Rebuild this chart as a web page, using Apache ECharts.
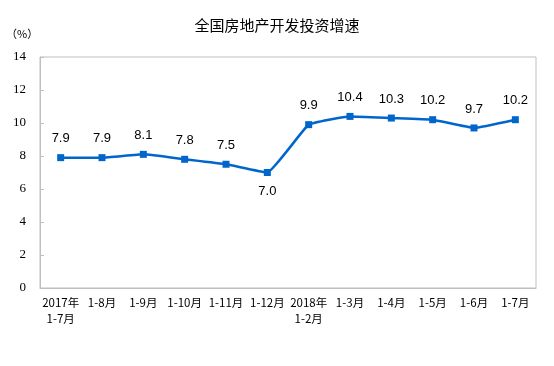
<!DOCTYPE html>
<html><head><meta charset="utf-8">
<script src="https://cdn.jsdelivr.net/npm/echarts@6/dist/echarts.min.js"></script>
<style>html,body{margin:0;padding:0;background:#fff}#c{width:554px;height:366px}</style>
</head><body><div id="c"></div>
<script>
var categories = ['2017年\n1-7月','1-8月','1-9月','1-10月','1-11月','1-12月','2018年\n1-2月','1-3月','1-4月','1-5月','1-6月','1-7月'];
var values = [7.9,7.9,8.1,7.8,7.5,7.0,9.9,10.4,10.3,10.2,9.7,10.2];
var yTicks = [0,2,4,6,8,10,12,14];
var labelBelow = [5];

var chart = echarts.init(document.getElementById('c'));
chart.setOption({
  animation:false,
  backgroundColor:'#fff',
  title:{text:'全国房地产开发投资增速',left:'center',top:13,textStyle:{fontFamily:'Noto Sans CJK SC',fontSize:15,fontWeight:'normal',color:'#000'}},
  graphic:[{type:'text',left:6,top:28,style:{text:'（%）',font:'11px "Noto Sans CJK SC"',fill:'#000'}}],
  grid:{left:40,right:18,top:57,bottom:78,show:true,borderColor:'#bfbfbf',borderWidth:1},
  xAxis:{type:'category',data:categories,boundaryGap:true,
    axisLine:{lineStyle:{color:'#bfbfbf'}},
    axisTick:{inside:true,length:5,lineStyle:{color:'#bfbfbf'}},
    axisLabel:{interval:0,color:'#000',fontFamily:'Noto Sans CJK SC',fontSize:11.5,margin:7,lineHeight:16}},
  yAxis:{type:'value',min:yTicks[0],max:yTicks[yTicks.length-1],interval:2,
    axisLine:{show:true,lineStyle:{color:'#bfbfbf'}},
    axisTick:{show:true,inside:true,length:4,lineStyle:{color:'#bfbfbf'}},
    splitLine:{show:false},
    axisLabel:{color:'#000',fontFamily:'Liberation Serif',fontSize:13,margin:14}},
  series:[{type:'line',data:values.map(function(v,i){
      return {value:v,label:{position: labelBelow.indexOf(i)>=0?'bottom':'top'}};
    }),
    smooth:0.1,symbol:'rect',symbolSize:7,
    lineStyle:{color:'#0066cc',width:2.5},itemStyle:{color:'#0066cc'},
    label:{show:true,distance:9,color:'#000',fontFamily:'Liberation Sans',fontSize:13,formatter:function(p){return p.value.toFixed(1);}}
  }]
});
</script></body></html>
